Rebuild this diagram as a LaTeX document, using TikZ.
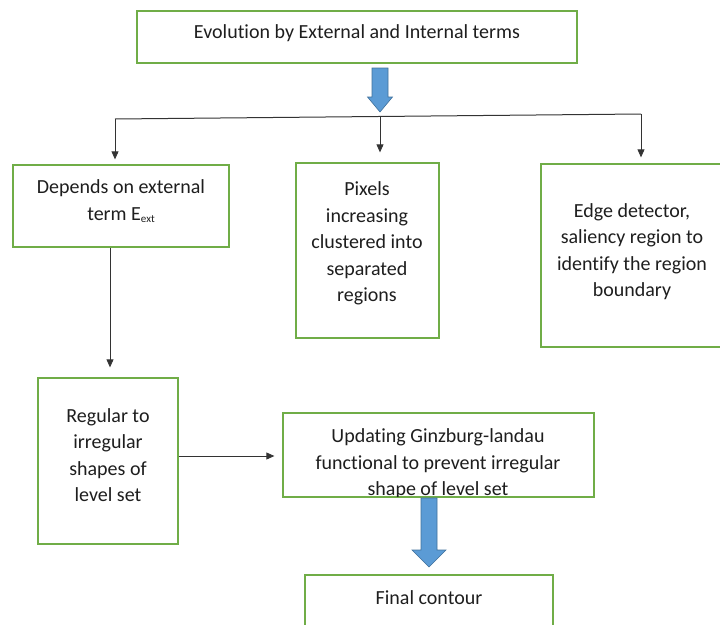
\documentclass[tikz,border=0pt]{standalone}
\usepackage{fontspec}
\setmainfont{Carlito}[Ligatures=CommonOff]
\usetikzlibrary{arrows.meta,calc}
\definecolor{boxgreen}{RGB}{112,173,71}
\definecolor{fatblue}{RGB}{91,155,213}
\definecolor{fatedge}{RGB}{65,113,156}
\definecolor{inkgray}{RGB}{30,30,30}
\newcommand\smallsub[1]{\raisebox{-2.5pt}{\fontsize{11}{11}\selectfont #1}}
\tikzset{
  box/.style={draw=boxgreen, line width=1.3pt, fill=white, inner sep=0pt},
  txt/.style={align=center, text=inkgray, inner sep=0pt,
    font=\fontsize{20}{26.5}\selectfont},
  conn/.style={draw=black!80, line width=0.8pt,
    -{Triangle[length=8pt,width=7pt]}},
  bus/.style={draw=black!80, line width=1pt},
  fatarrow/.style={fill=fatblue, draw=fatedge, line width=0.6pt, line join=miter}
}
\begin{document}
\begin{tikzpicture}[x=1pt,y=-1pt]
\useasboundingbox (0,0) rectangle (720,624);
\clip (0,0) rectangle (720,624);

% boxes
\node[box, minimum width=440pt, minimum height=52pt] (top) at (357,37) {};
\node[box, minimum width=216pt, minimum height=82pt] (b1) at (121,206) {};
\node[box, minimum width=143pt, minimum height=175pt] (b2) at (367.5,250.5) {};
\node[box, minimum width=181pt, minimum height=183pt] (b3) at (631.5,255.5) {};
\node[box, minimum width=140pt, minimum height=166pt] (b4) at (108,461) {};
\node[box, minimum width=311pt, minimum height=84pt] (b5) at (438.5,455) {};
\node[box, minimum width=248pt, minimum height=80pt] (b6) at (429,615) {};

% texts
\node[txt] (t0) at (357,33) {Evolution by External and Internal terms};
\node[txt] (t1) at (121,201.5) {Depends on external\\term E\smallsub{ext}};
\node[txt] (t2) at (367,243.5) {Pixels\\increasing\\clustered into\\separated\\regions};
\node[txt] (t3) at (632,251.5) {Edge detector,\\saliency region to\\identify the region\\boundary};
\node[txt] (t4) at (108,455) {Regular to\\irregular\\shapes of\\level set};
\begin{scope}
  % the last line runs into the lower edge of its box
  \clip ([shift={(0.7,0.7)}]b5.north west) rectangle ([shift={(-0.7,-0.7)}]b5.south east);
  \node[txt] (t5) at (438,464) {Updating Ginzburg-landau\\functional to prevent irregular\\shape of level set};
\end{scope}
\node[txt] (t6) at (429,598) {Final contour};

% splitting bus under the top box
\coordinate (jl) at (115,119);
\coordinate (jr) at (641,114);
\coordinate (jm) at (380,116.5);
\draw[bus] (jl) -- (jr);
\draw[conn, shorten >=5pt] (jl) -- (jl |- b1.north);
\draw[conn, shorten >=10pt] (jm) -- (jm |- b2.north);
\draw[conn, shorten >=6pt] (jr) -- (jr |- b3.north);

% thick arrow from the top box to the bus
\coordinate (a1s) at (380,68);
\coordinate (a1e) at (380,112);
\draw[fatarrow] ($(a1s)+(-8,0)$) -- ++(16,0) -- ++(0,29) -- ++(4.5,0)
  -- (a1e) -- ++(-12.5,-15) -- ++(4.5,0) -- cycle;

% lower connectors
\draw[conn, shorten >=10pt] ([xshift=-11pt]b1.south) -- ([xshift=2pt]b4.north);
\draw[conn, shorten >=8pt] ([yshift=5pt]b4.east) -- ([yshift=5pt]b4.east -| b5.west);

% thick arrow to the final contour
\coordinate (a2s) at (429,498);
\coordinate (a2e) at (429,567);
\draw[fatarrow] ($(a2s)+(-8,0)$) -- ++(16,0) -- ++(0,52) -- ++(9,0)
  -- (a2e) -- ++(-17,-17) -- ++(9,0) -- cycle;
\end{tikzpicture}
\end{document}
